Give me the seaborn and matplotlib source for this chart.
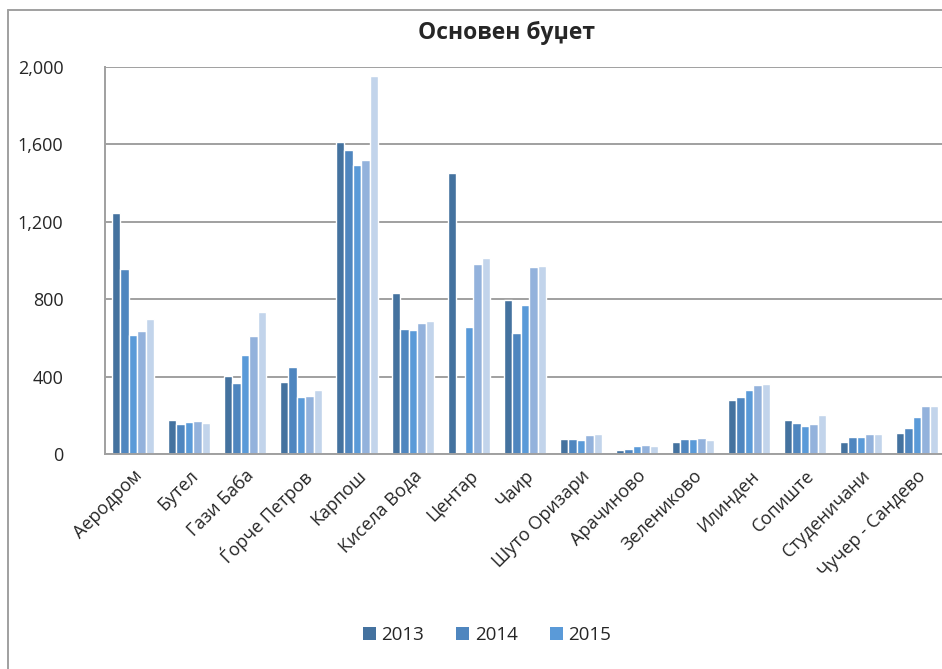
import matplotlib
matplotlib.use("Agg")
import matplotlib.pyplot as plt
import seaborn as sns
import pandas as pd
import numpy as np
from matplotlib.patches import Patch
from matplotlib.lines import Line2D

categories = ["Аеродром", "Бутел", "Гази Баба", "Ѓорче Петров", "Карпош",
              "Кисела Вода", "Центар", "Чаир", "Шуто Оризари", "Арачиново",
              "Зелениково", "Илинден", "Сопиште", "Студеничани", "Чучер - Сандево"]
series_names = ["2013", "2014", "2015", "2016", "2017"]
s2013 = [1247, 176, 403, 372, 1613, 832, 1454, 796, 78, 21, 62, 279, 176, 62, 109]
s2014 = [956, 155, 367, 450, 1572, 646, 0, 625, 78, 26, 78, 295, 160, 88, 134]
s2015 = [615, 165, 512, 295, 1494, 641, 657, 770, 72, 41, 78, 331, 145, 88, 191]
s2016 = [636, 171, 610, 300, 1520, 677, 982, 967, 98, 47, 83, 357, 155, 103, 248]
s2017 = [698, 160, 734, 331, 1951, 688, 1013, 972, 103, 41, 72, 362, 202, 103, 248]
yticks = [0, 400, 800, 1200, 1600, 2000]
ytick_labels = ["0", "400", "800", "1,200", "1,600", "2,000"]
title = "Основен буџет"

colors = ["#44729F", "#4F86BF", "#5A9AD8", "#93B2DC", "#C2D4EB"]

rows = []
for name, vals in zip(series_names, [s2013, s2014, s2015, s2016, s2017]):
    for c, v in zip(categories, vals):
        rows.append({"cat": c, "year": name, "value": v})
df = pd.DataFrame(rows)

sns.set_style("white")
plt.rcParams["font.family"] = ["Open Sans", "DejaVu Sans"]

fig = plt.figure(figsize=(9.42, 6.69), dpi=100)
W, H = 942, 669
ax = fig.add_axes([105 / W, 1 - 454 / H, 840 / W, (454 - 67) / H])

sns.barplot(data=df, x="cat", y="value", hue="year", palette=colors,
            width=0.75, gap=0, saturation=1, ax=ax, legend=False,
            order=categories, hue_order=series_names, errorbar=None)

ax.set_ylim(0, 2000)
ax.set_xlim(-0.5, len(categories) - 0.5)
ax.set_yticks(yticks)
ax.set_yticklabels(ytick_labels)
ax.yaxis.grid(True, color="#A0A0A0", linewidth=1.4)
ax.set_axisbelow(True)
ax.set_xlabel("")
ax.set_ylabel("")
for s in ["top", "right"]:
    ax.spines[s].set_visible(False)
for s in ["left", "bottom"]:
    ax.spines[s].set_color("#A0A0A0")
    ax.spines[s].set_linewidth(1.4)
ax.tick_params(axis="y", length=0, pad=30, labelsize=13)
ax.tick_params(axis="x", length=0, pad=9, labelsize=13)
for lbl in ax.get_xticklabels():
    lbl.set_rotation(45)
    lbl.set_ha("right")
    lbl.set_rotation_mode("anchor")

fig.text(506 / W, 1 - 33 / H, title, ha="center", va="center",
         fontsize=16.5, fontweight="bold")

handles = [Patch(facecolor=colors[i], edgecolor="none", label=series_names[i]) for i in range(3)]
fig.legend(handles=handles, loc="center", bbox_to_anchor=(487 / W, 1 - 635 / H),
           ncol=3, frameon=False, fontsize=13.5, handlelength=0.7, handleheight=0.7,
           columnspacing=1.7, handletextpad=0.3)

fig.add_artist(Line2D([8 / W, 8 / W], [0, 1 - 10 / H], transform=fig.transFigure,
                      color="#A0A0A0", linewidth=1.4))
fig.add_artist(Line2D([8 / W, 1], [1 - 10 / H, 1 - 10 / H], transform=fig.transFigure,
                      color="#A0A0A0", linewidth=1.4))

fig.savefig("out.png", dpi=100)
